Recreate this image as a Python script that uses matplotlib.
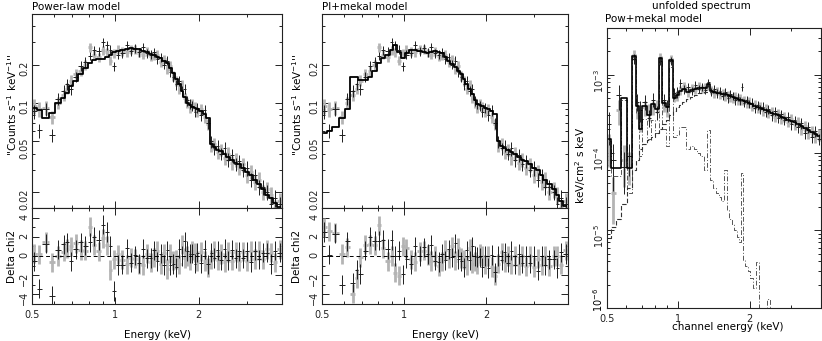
import numpy as np
import matplotlib
matplotlib.use("Agg")
import matplotlib.pyplot as plt
from matplotlib.ticker import FixedLocator, FixedFormatter, NullFormatter, LogLocator

plt.rcParams["font.family"] = "DejaVu Sans"
plt.rcParams["font.size"] = 7

# channel energies (keV), bin centres
energy = [0.51, 0.53, 0.56, 0.59, 0.62, 0.65, 0.67, 0.69, 0.72, 0.75, 0.78, 0.81, 0.84,
          0.87, 0.90, 0.93, 0.96, 0.99,
          1.02, 1.06, 1.10, 1.14, 1.18, 1.22, 1.26, 1.30, 1.34, 1.38, 1.42, 1.46, 1.50,
          1.54, 1.58, 1.62, 1.66, 1.70, 1.74, 1.78, 1.82, 1.86, 1.90, 1.94, 1.98,
          2.04, 2.10, 2.16, 2.22, 2.28, 2.34, 2.40, 2.48, 2.56, 2.64, 2.72, 2.80,
          2.90, 3.00, 3.10, 3.20, 3.30, 3.42, 3.54, 3.66, 3.78, 3.92]

# relative 1-sigma errors of the count rates
err_rel = [0.13, 0.13, 0.12, 0.12, 0.11, 0.10, 0.10, 0.10, 0.09, 0.09, 0.09, 0.08, 0.08,
           0.08, 0.08, 0.08, 0.08, 0.08,
           0.08, 0.08, 0.08, 0.08, 0.08, 0.08, 0.08, 0.08, 0.08, 0.08, 0.08, 0.08, 0.08,
           0.08, 0.09, 0.09, 0.09, 0.09, 0.09, 0.09, 0.09, 0.09, 0.09, 0.09, 0.09,
           0.10, 0.10, 0.10, 0.11, 0.11, 0.11, 0.11, 0.12, 0.12, 0.12, 0.12, 0.12,
           0.13, 0.13, 0.13, 0.13, 0.14, 0.14, 0.14, 0.15, 0.15, 0.15]

# counts s-1 keV-1, first (black) and second (grey) detector
rate_a = [0.086, 0.061, 0.090, 0.056, 0.108, 0.125, 0.140, 0.128, 0.160, 0.195, 0.210, 0.235, 0.260,
          0.255, 0.300, 0.285, 0.262, 0.195,
          0.240, 0.245, 0.285, 0.255, 0.270, 0.250, 0.275, 0.245, 0.240, 0.250, 0.220, 0.228, 0.200,
          0.215, 0.175, 0.160, 0.140, 0.150, 0.125, 0.130, 0.105, 0.098, 0.095, 0.085, 0.092,
          0.080, 0.088, 0.070, 0.050, 0.044, 0.046, 0.040, 0.044, 0.036, 0.039, 0.033, 0.035,
          0.030, 0.031, 0.025, 0.027, 0.022, 0.022, 0.020, 0.016, 0.018, 0.016]
rate_b = [0.095, 0.090, 0.092, 0.078, 0.100, 0.115, 0.130, 0.150, 0.170, 0.180, 0.200, 0.275, 0.240,
          0.230, 0.260, 0.250, 0.215, 0.245,
          0.262, 0.255, 0.250, 0.265, 0.262, 0.248, 0.240, 0.255, 0.232, 0.235, 0.240, 0.210, 0.220,
          0.185, 0.195, 0.165, 0.150, 0.130, 0.140, 0.110, 0.100, 0.092, 0.098, 0.094, 0.085,
          0.090, 0.078, 0.068, 0.046, 0.048, 0.041, 0.043, 0.037, 0.040, 0.034, 0.036, 0.031,
          0.033, 0.027, 0.029, 0.024, 0.025, 0.020, 0.021, 0.019, 0.015, 0.017]

# folded models
model_pl = [0.092, 0.088, 0.076, 0.084, 0.100, 0.110, 0.120, 0.135, 0.150, 0.170, 0.190, 0.208, 0.218,
            0.221, 0.222, 0.228, 0.240, 0.252,
            0.258, 0.263, 0.267, 0.269, 0.268, 0.265, 0.258, 0.250, 0.244, 0.238, 0.230, 0.224, 0.215,
            0.205, 0.190, 0.172, 0.155, 0.140, 0.125, 0.112, 0.100, 0.096, 0.093, 0.091, 0.089,
            0.086, 0.082, 0.076, 0.048, 0.045, 0.043, 0.042, 0.040, 0.038, 0.036, 0.034, 0.033,
            0.031, 0.029, 0.027, 0.025, 0.023, 0.021, 0.019, 0.018, 0.0165, 0.0152]
model_plmk = [0.058, 0.060, 0.065, 0.076, 0.090, 0.160, 0.160, 0.152, 0.152, 0.160, 0.180, 0.205, 0.225,
              0.240, 0.260, 0.285, 0.250, 0.225,
              0.245, 0.262, 0.262, 0.255, 0.250, 0.246, 0.250, 0.255, 0.252, 0.245, 0.228, 0.215, 0.202,
              0.192, 0.180, 0.168, 0.155, 0.142, 0.130, 0.118, 0.105, 0.099, 0.096, 0.094, 0.092,
              0.090, 0.087, 0.082, 0.050, 0.046, 0.044, 0.043, 0.041, 0.040, 0.038, 0.036, 0.035,
              0.033, 0.031, 0.030, 0.027, 0.025, 0.023, 0.021, 0.019, 0.017, 0.0155]

# unfolded spectrum (keV/cm2 s keV)
unf_a = [2.3e-4, 8e-5, 5.5e-4, 6.5e-5, 9e-5, 1.6e-3, 4.5e-4, 3.5e-4, 4.5e-4, 2.8e-4, 4.8e-4, 3.3e-4, 1.5e-3,
         4.8e-4, 4.0e-4, 1.5e-3, 5.8e-4, 6.0e-4,
         7.8e-4, 6.5e-4, 7.0e-4, 6.2e-4, 7.5e-4, 6.6e-4, 7.0e-4, 6.4e-4, 8.0e-4, 6.0e-4, 6.6e-4, 5.8e-4, 6.2e-4,
         5.4e-4, 6.0e-4, 5.0e-4, 5.7e-4, 5.4e-4, 4.7e-4, 5.2e-4, 4.6e-4, 7.0e-4, 4.4e-4, 4.8e-4, 4.2e-4,
         4.4e-4, 3.7e-4, 4.1e-4, 3.6e-4, 3.9e-4, 3.3e-4, 3.6e-4, 3.0e-4, 3.4e-4, 2.8e-4, 3.1e-4, 2.6e-4,
         2.9e-4, 2.3e-4, 2.6e-4, 2.1e-4, 2.4e-4, 1.8e-4, 2.1e-4, 1.6e-4, 1.9e-4, 1.5e-4]
unf_b = [1.2e-4, 3e-5, 3.5e-4, 8e-5, 7e-5, 1.8e-3, 3.6e-4, 2.6e-4, 3.8e-4, 3.4e-4, 3.8e-4, 4.0e-4, 1.7e-3,
         4.0e-4, 3.5e-4, 1.6e-3, 5.2e-4, 5.4e-4,
         6.4e-4, 7.2e-4, 6.0e-4, 6.8e-4, 6.4e-4, 7.2e-4, 6.6e-4, 7.0e-4, 7.2e-4, 6.5e-4, 5.8e-4, 6.2e-4, 5.6e-4,
         5.9e-4, 5.3e-4, 5.6e-4, 5.1e-4, 5.0e-4, 5.3e-4, 4.6e-4, 5.0e-4, 4.6e-4, 4.8e-4, 4.3e-4, 4.6e-4,
         3.9e-4, 4.2e-4, 3.7e-4, 3.9e-4, 3.4e-4, 3.7e-4, 3.2e-4, 3.4e-4, 2.9e-4, 3.2e-4, 2.7e-4, 2.9e-4,
         2.5e-4, 2.7e-4, 2.3e-4, 2.5e-4, 2.0e-4, 2.2e-4, 1.8e-4, 1.9e-4, 1.6e-4, 1.7e-4]
unf_err = [0.45, 0.6, 0.35, 0.55, 0.45, 0.15, 0.25, 0.3, 0.22, 0.25, 0.2, 0.2, 0.12,
           0.18, 0.18, 0.12, 0.15, 0.15,
           0.13, 0.13, 0.13, 0.12, 0.12, 0.12, 0.12, 0.12, 0.12, 0.12, 0.12, 0.12, 0.12,
           0.12, 0.12, 0.12, 0.12, 0.12, 0.12, 0.12, 0.12, 0.12, 0.12, 0.12, 0.12,
           0.13, 0.13, 0.13, 0.13, 0.13, 0.13, 0.13, 0.14, 0.14, 0.14, 0.14, 0.14,
           0.15, 0.15, 0.15, 0.15, 0.16, 0.16, 0.16, 0.17, 0.17, 0.17]
unf_total = [1.5e-4, 6.3e-5, 6.3e-5, 5.0e-4, 6.3e-5, 1.75e-3, 4.0e-4, 2.0e-4, 4.0e-4, 3.0e-4, 4.2e-4, 3.6e-4, 1.65e-3,
             4.3e-4, 3.8e-4, 1.55e-3, 5.0e-4, 5.5e-4,
             6.2e-4, 6.6e-4, 6.0e-4, 6.4e-4, 6.6e-4, 6.8e-4, 6.8e-4, 6.8e-4, 7.6e-4, 6.2e-4, 6.0e-4, 5.9e-4, 5.8e-4,
             5.7e-4, 5.6e-4, 5.5e-4, 5.4e-4, 5.2e-4, 5.0e-4, 4.9e-4, 4.8e-4, 4.8e-4, 4.6e-4, 4.5e-4, 4.4e-4,
             4.2e-4, 4.0e-4, 3.9e-4, 3.75e-4, 3.6e-4, 3.5e-4, 3.4e-4, 3.25e-4, 3.15e-4, 3.05e-4, 2.9e-4, 2.8e-4,
             2.65e-4, 2.55e-4, 2.45e-4, 2.3e-4, 2.2e-4, 2.05e-4, 1.95e-4, 1.85e-4, 1.75e-4, 1.65e-4]
unf_pow = [8e-6, 1.1e-5, 1.4e-5, 2.2e-5, 3.5e-5, 6.0e-5, 8.0e-5, 1.1e-4, 1.3e-4, 1.45e-4, 1.6e-4, 1.8e-4, 2.0e-4,
           2.3e-4, 2.6e-4, 3.0e-4, 3.4e-4, 3.8e-4,
           4.1e-4, 4.5e-4, 4.9e-4, 5.2e-4, 5.5e-4, 5.8e-4, 5.9e-4, 6.0e-4, 6.05e-4, 6.0e-4, 5.9e-4, 5.8e-4, 5.7e-4,
           5.6e-4, 5.5e-4, 5.4e-4, 5.3e-4, 5.15e-4, 4.95e-4, 4.85e-4, 4.75e-4, 4.7e-4, 4.55e-4, 4.45e-4, 4.35e-4,
           4.2e-4, 4.0e-4, 3.9e-4, 3.75e-4, 3.6e-4, 3.5e-4, 3.4e-4, 3.25e-4, 3.15e-4, 3.05e-4, 2.9e-4, 2.8e-4,
           2.65e-4, 2.55e-4, 2.45e-4, 2.3e-4, 2.2e-4, 2.05e-4, 1.95e-4, 1.85e-4, 1.75e-4, 1.65e-4]
unf_mekal = [1.4e-4, 5.0e-5, 5.0e-5, 4.7e-4, 3.0e-5, 1.7e-3, 3.2e-4, 9.0e-5, 2.7e-4, 1.5e-4, 2.6e-4, 1.8e-4, 1.45e-3,
             2.0e-4, 1.2e-4, 1.25e-3, 1.6e-4, 1.7e-4,
             2.1e-4, 2.1e-4, 1.1e-4, 1.2e-4, 1.1e-4, 1.0e-4, 9.0e-5, 6.0e-5, 1.95e-4, 4.4e-5, 3.5e-5, 3.0e-5, 2.7e-5,
             2.4e-5, 6.0e-5, 1.8e-5, 1.4e-5, 1.2e-5, 1.0e-5, 8.3e-6, 7.0e-6, 5.4e-5, 4.2e-6, 3.5e-6, 3.0e-6,
             2.4e-6, 1.8e-6, 3.9e-6, 1.0e-6, 8e-7, 7e-7, 1.3e-6, 6e-7, 5e-7, 4.5e-7, 4e-7, 3.5e-7,
             3e-7, 2.7e-7, 2.4e-7, 2.1e-7, 1.9e-7, 1.7e-7, 1.5e-7, 1.3e-7, 1.2e-7, 1.1e-7]

W, H = 822, 341
fig = plt.figure(figsize=(W / 100, H / 100), dpi=100)


def box(x0, y0, x1, y1):
    return [x0 / W, 1 - y1 / H, (x1 - x0) / W, (y1 - y0) / H]


e = np.array(energy)
edges = np.concatenate([[0.5], (e[1:] + e[:-1]) / 2, [4.0]])
xerr = [e - edges[:-1], edges[1:] - e]

BLACK = "#1e1e1e"
GREY = "#b4b4b4"


def style(ax, xlabels=True):
    ax.set_xscale("log")
    ax.set_xlim(0.5, 4.0)
    ax.xaxis.set_major_locator(FixedLocator([0.5, 1, 2]))
    ax.xaxis.set_minor_locator(FixedLocator([0.6, 0.7, 0.8, 0.9, 3, 4]))
    ax.xaxis.set_minor_formatter(NullFormatter())
    ax.xaxis.set_major_formatter(FixedFormatter(["0.5", "1", "2"]))
    ax.tick_params(which="both", direction="in", top=True, right=True, width=0.7, colors="#222222")
    ax.tick_params(which="major", length=5)
    ax.tick_params(which="minor", length=2.5)
    ax.tick_params(axis="y", labelrotation=90, pad=2)
    ax.tick_params(axis="x", pad=4)
    if not xlabels:
        ax.tick_params(labelbottom=False)
    for s in ax.spines.values():
        s.set_linewidth(0.8)
        s.set_color("#222222")


def fit_panel(x0, x1, model, title, label_x):
    up = fig.add_axes(box(x0, 14, x1, 208))
    lo = fig.add_axes(box(x0, 208, x1, 304))
    ra = np.array(rate_a)
    rb = np.array(rate_b)
    er = np.array(err_rel)
    m = np.array(model)
    up.errorbar(e, rb, yerr=rb * er, xerr=xerr, fmt="none", ecolor=GREY, elinewidth=2.0)
    up.errorbar(e, ra, yerr=ra * er, xerr=xerr, fmt="none", ecolor=BLACK, elinewidth=0.7)
    up.plot(e, m, drawstyle="steps-mid", color="black", lw=1.3)
    up.set_yscale("log")
    up.set_ylim(0.015, 0.5)
    style(up, xlabels=False)
    up.yaxis.set_major_locator(FixedLocator([0.02, 0.05, 0.1, 0.2]))
    up.yaxis.set_major_formatter(FixedFormatter(["0.02", "0.05", "0.1", "0.2"]))
    up.yaxis.set_minor_locator(LogLocator(subs=np.arange(1, 10)))
    up.yaxis.set_minor_formatter(NullFormatter())

    res_a = (ra - m) / (ra * er)
    res_b = (rb - m) / (rb * er)
    lo.errorbar(e, res_b, yerr=1, xerr=xerr, fmt="none", ecolor=GREY, elinewidth=2.0)
    lo.errorbar(e, res_a, yerr=1, xerr=xerr, fmt="none", ecolor=BLACK, elinewidth=0.7)
    lo.axhline(0, color="black", lw=0.7, ls=(0, (4, 3)))
    lo.set_ylim(-5, 5)
    style(lo)
    lo.yaxis.set_major_locator(FixedLocator([-4, -2, 0, 2, 4]))
    lo.yaxis.set_major_formatter(FixedFormatter(["\u22124", "\u22122", "0", "2", "4"]))
    lo.yaxis.set_minor_locator(FixedLocator([-3, -1, 1, 3]))

    fig.text(x0 / W, 1 - 7 / H, title, ha="left", va="center", fontsize=7.5)
    fig.text(label_x / W, 1 - 105 / H, "''Counts s$^{-1}$ keV$^{-1}$''", rotation=90,
             ha="center", va="center", fontsize=7.5)
    fig.text(label_x / W, 1 - 256 / H, "Delta chi2", rotation=90, ha="center", va="center", fontsize=7.5)
    fig.text((x0 + x1) / 2 / W + 0.0, 1 - 335 / H, "Energy (keV)", ha="center", va="center", fontsize=7.5)


fit_panel(32, 282, model_pl, "Power-law model", 12)
fit_panel(322, 568, model_plmk, "Pl+mekal model", 297)

# unfolded spectrum
ax = fig.add_axes(box(607, 28, 821, 308))
ua = np.array(unf_a)
ub = np.array(unf_b)
ue = np.array(unf_err)
ax.errorbar(e, ub, yerr=ub * ue, xerr=xerr, fmt="none", ecolor=GREY, elinewidth=2.0)
ax.errorbar(e, ua, yerr=ua * ue, xerr=xerr, fmt="none", ecolor=BLACK, elinewidth=0.7)
ax.plot(e, unf_mekal, drawstyle="steps-mid", color="#555555", lw=0.7, ls=(0, (5, 2, 1, 2)))
ax.plot(e, unf_pow, drawstyle="steps-mid", color="#333333", lw=0.8, ls=(0, (4, 2)))
ax.plot(e, unf_total, drawstyle="steps-mid", color="black", lw=1.2)
ax.set_yscale("log")
ax.set_ylim(1e-6, 4e-3)
style(ax)
ax.tick_params(axis="y", pad=1)
ax.yaxis.set_major_locator(FixedLocator([1e-6, 1e-5, 1e-4, 1e-3]))
# lowest decade label is placed by hand below, lifted clear of the "0.5"
ax.yaxis.set_major_formatter(FixedFormatter(["", "10$^{-5}$", "10$^{-4}$", "10$^{-3}$"]))
ax.yaxis.set_minor_locator(LogLocator(subs=np.arange(2, 10)))
ax.yaxis.set_minor_formatter(NullFormatter())

fig.text(598 / W, 1 - 300 / H, "10$^{-6}$", rotation=90, ha="center", va="center", fontsize=7)
fig.text(701 / W, 1 - 6 / H, "unfolded spectrum", ha="center", va="center", fontsize=7.5)
fig.text(605 / W, 1 - 19 / H, "Pow+mekal model", ha="left", va="center", fontsize=7.5)
fig.text(581 / W, 1 - 165 / H, "keV/cm$^{2}$ s keV", rotation=90, ha="center", va="center", fontsize=7.5)
fig.text(728 / W, 1 - 327 / H, "channel energy (keV)", ha="center", va="center", fontsize=7.5)

fig.savefig("out.png", dpi=100)
